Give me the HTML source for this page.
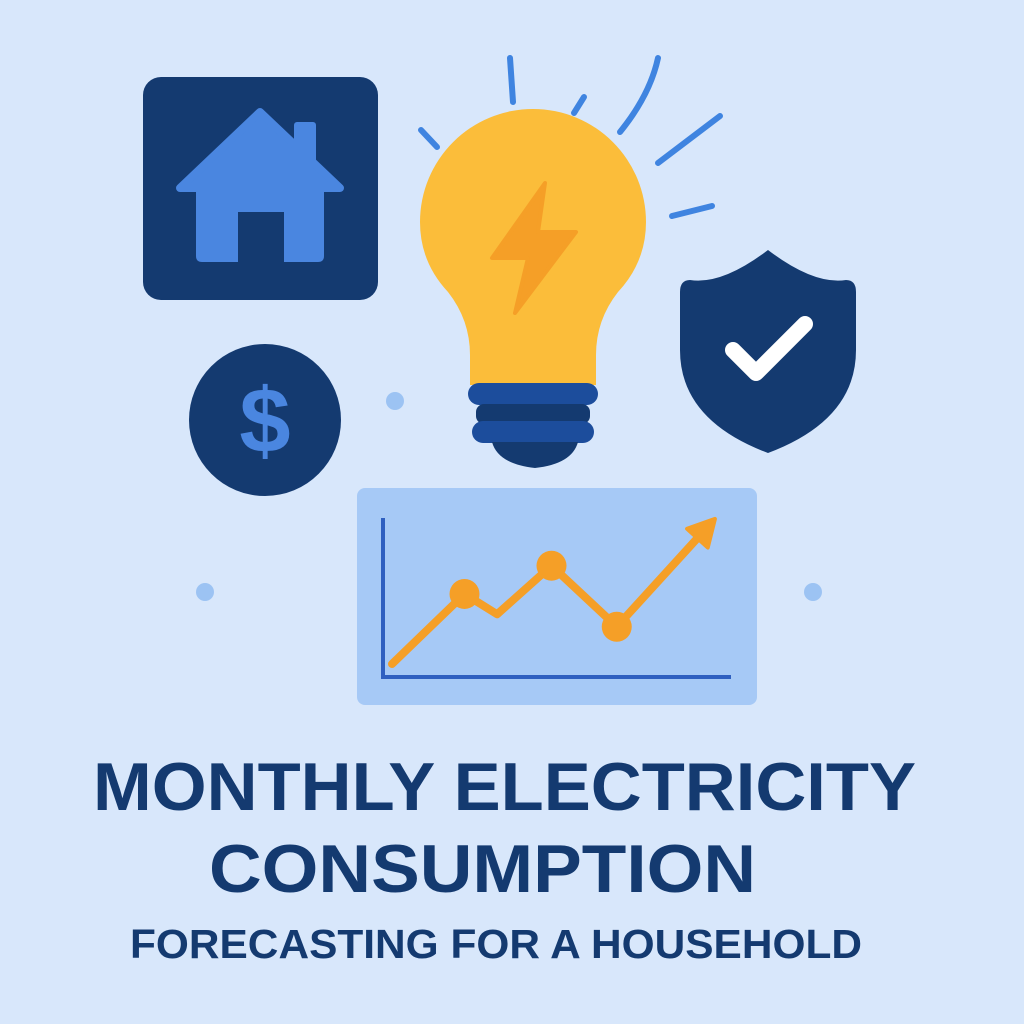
<!DOCTYPE html>
<html><head><meta charset="utf-8"><style>
html,body{margin:0;padding:0;background:#d8e7fb;}
svg{display:block}
</style></head><body>
<svg width="1024" height="1024" viewBox="0 0 1024 1024" xmlns="http://www.w3.org/2000/svg">
<rect width="1024" height="1024" fill="#d8e7fb"/>
<!-- house -->
<g>
<rect x="143" y="77" width="235" height="223" rx="18" fill="#143a70"/>
<path d="M180 188 L260 112 L340 188 Z" fill="#4a86e0" stroke="#4a86e0" stroke-width="8" stroke-linejoin="round"/>
<rect x="294" y="122" width="22" height="45" rx="3" fill="#4a86e0"/>
<path d="M196 180 L324 180 L324 256 Q324 262 318 262 L284 262 L284 212 L238 212 L238 262 L202 262 Q196 262 196 256 Z" fill="#4a86e0"/>
</g>
<!-- dollar -->
<g>
<circle cx="265" cy="420" r="76" fill="#143a70"/>
<text x="265" y="452" text-anchor="middle" font-family="Liberation Sans, sans-serif" font-weight="bold" font-size="92" fill="#4a86e0">$</text>
</g>
<!-- dots -->
<circle cx="395" cy="401" r="9" fill="#9cc3f3"/>
<circle cx="205" cy="592" r="9" fill="#9cc3f3"/>
<circle cx="813" cy="592" r="9" fill="#9cc3f3"/>
<!-- rays -->
<g stroke="#3f84e0" stroke-width="6" stroke-linecap="round" fill="none">
<line x1="510" y1="58" x2="513" y2="102"/>
<line x1="574" y1="113" x2="584" y2="97"/>
<path d="M620 132 Q650 95 658 58"/>
<line x1="658" y1="163" x2="720" y2="116"/>
<line x1="672" y1="216" x2="712" y2="206"/>
<line x1="421" y1="130" x2="437" y2="147"/>
</g>
<!-- bulb -->
<g>
<path d="M470 385 L470 355 Q470 320 448 292 Q420 262 420 222 A113 113 0 0 1 646 222 Q646 262 618 292 Q596 320 596 355 L596 385 Z" fill="#fbbd3a"/>
<path d="M545 183 L492 258 L528 258 L515 313 L576 232 L538 232 Z" fill="#f59f27" stroke="#f59f27" stroke-width="4" stroke-linejoin="round"/>
<rect x="468" y="383" width="130" height="22" rx="11" fill="#1c4d9c"/>
<rect x="476" y="404" width="114" height="20" rx="8" fill="#143a70"/>
<rect x="472" y="421" width="122" height="22" rx="11" fill="#1c4d9c"/>
<path d="M492 442 L578 442 Q572 464 535 468 Q498 464 492 442 Z" fill="#143a70"/>
</g>
<!-- shield -->
<g>
<path d="M768 250 Q722 285 690 280 Q680 280 680 292 L680 350 Q680 420 768 453 Q856 420 856 350 L856 292 Q856 280 846 280 Q814 285 768 250 Z" fill="#143a70"/>
<path d="M733 350 L756 373 L805 324" stroke="#fff" stroke-width="16" fill="none" stroke-linecap="round" stroke-linejoin="round"/>
</g>
<!-- chart panel -->
<g id="chart">
<rect x="357" y="488" width="400" height="217" rx="8" fill="#a6c9f6"/>
<line x1="383" y1="518" x2="383" y2="677" stroke="#2f5fc0" stroke-width="4"/>
<line x1="381" y1="677" x2="731" y2="677" stroke="#2f5fc0" stroke-width="4"/>
</g>
<!-- title -->
<text x="93" y="810" textLength="823" lengthAdjust="spacingAndGlyphs" font-family="Liberation Sans, sans-serif" font-weight="bold" font-size="68" fill="#143a70">MONTHLY ELECTRICITY</text>
<text x="209" y="892" textLength="547" lengthAdjust="spacingAndGlyphs" font-family="Liberation Sans, sans-serif" font-weight="bold" font-size="68" fill="#143a70">CONSUMPTION</text>
<text x="130" y="958" textLength="732" lengthAdjust="spacingAndGlyphs" font-family="Liberation Sans, sans-serif" font-weight="bold" font-size="41" fill="#143a70">FORECASTING FOR A HOUSEHOLD</text>
</svg>
<script>
const months = [0, 1, 1.45, 2.2, 3.1, 4.25];
const usage = [1, 7.2, 5.4, 9.7, 4.3, 12.4];
const markerIdx = [1, 3, 4];
const NS = 'http://www.w3.org/2000/svg';
function xScale(t){ return 392 + t * 72.5; }
function yScale(v){ return 677 - 13 - (v - 1) * 11.3; }
const g = document.getElementById('chart');
let d = '';
months.forEach((m,i)=>{ d += (i?'L':'M') + xScale(m) + ' ' + yScale(usage[i]) + ' '; });
const path = document.createElementNS(NS,'path');
path.setAttribute('d', d);
path.setAttribute('fill','none');
path.setAttribute('stroke','#f59f27');
path.setAttribute('stroke-width','8');
path.setAttribute('stroke-linejoin','round');
path.setAttribute('stroke-linecap','round');


g.appendChild(path);
const n = months.length - 1;
const ex = xScale(months[n]), ey = yScale(usage[n]);
const px = xScale(months[n-1]), py = yScale(usage[n-1]);
const ang = Math.atan2(ey - py, ex - px);
const tipX = ex + Math.cos(ang)*22, tipY = ey + Math.sin(ang)*22;
const s = 20;
const pts = [[tipX,tipY],[ex + Math.cos(ang+Math.PI/2)*s*0.7 - Math.cos(ang)*4, ey + Math.sin(ang+Math.PI/2)*s*0.7 - Math.sin(ang)*4],[ex + Math.cos(ang-Math.PI/2)*s*0.7 - Math.cos(ang)*4, ey + Math.sin(ang-Math.PI/2)*s*0.7 - Math.sin(ang)*4]];
const arrow = document.createElementNS(NS,'polygon');
arrow.setAttribute('points', pts.map(p=>p.join(',')).join(' '));
arrow.setAttribute('fill','#f59f27');
arrow.setAttribute('stroke','#f59f27');
arrow.setAttribute('stroke-width','4');
arrow.setAttribute('stroke-linejoin','round');


g.appendChild(arrow);
markerIdx.forEach(i=>{
  const c = document.createElementNS(NS,'circle');
  c.setAttribute('cx', xScale(months[i]));
  c.setAttribute('cy', yScale(usage[i]));
  c.setAttribute('r', 15);
  c.setAttribute('fill','#f59f27');
  
  
  g.appendChild(c);
});
</script>
</body></html>
